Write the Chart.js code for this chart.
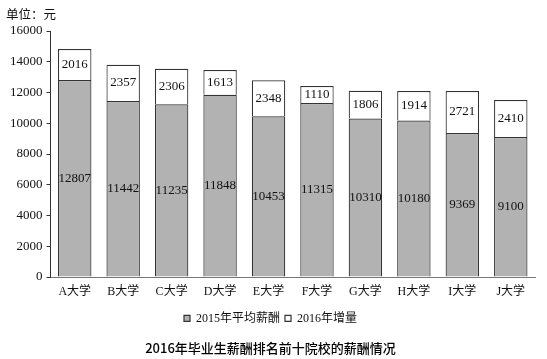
<!DOCTYPE html>
<html>
<head>
<meta charset="utf-8">
<script src="https://cdn.jsdelivr.net/npm/chart.js@4/dist/chart.umd.min.js"></script>
<style>
html,body{margin:0;padding:0;background:#fff;}
#wrap{width:547px;height:359px;}
</style>
</head>
<body>
<div id="wrap"><canvas id="c" width="547" height="359"></canvas></div>
<script>
const categories = ["A大学","B大学","C大学","D大学","E大学","F大学","G大学","H大学","I大学","J大学"];
const salary2015 = [12807,11442,11235,11848,10453,11315,10310,10180,9369,9100];
const increase2016 = [2016,2357,2306,1613,2348,1110,1806,1914,2721,2410];
const seriesNames = ["2015年平均薪酬","2016年增量"];
const yTicks = [0,2000,4000,6000,8000,10000,12000,14000,16000];
const unitLabel = "单位：元";
const chartTitle = "2016年毕业生薪酬排名前十院校的薪酬情况";

const serif = "'Liberation Serif','DejaVu Serif','Noto Sans CJK SC',serif";
const sans = "'Noto Sans CJK SC','DejaVu Sans',sans-serif";
Chart.defaults.font.family = serif;
Chart.defaults.color = '#111';

const labelPlugin = {
  id: 'segLabels',
  afterDatasetsDraw(chart) {
    const ctx = chart.ctx;
    ctx.save();
    ctx.font = "13px " + serif;
    ctx.fillStyle = "#111";
    ctx.textAlign = "center";
    ctx.textBaseline = "middle";
    chart.data.datasets.forEach((ds, di) => {
      const meta = chart.getDatasetMeta(di);
      meta.data.forEach((bar, i) => {
        const p = bar.getProps(['x','y','base'], true);
        ctx.fillText(String(ds.data[i]), p.x, (p.y + p.base) / 2);
      });
    });
    ctx.font = "12.5px " + serif;
    ctx.textAlign = "left";
    ctx.fillText(unitLabel, 6, 16);
    ctx.restore();
  }
};

new Chart(document.getElementById('c'), {
  type: 'bar',
  data: {
    labels: categories,
    datasets: [
      { label: seriesNames[0], data: salary2015, backgroundColor: '#b2b2b2', borderColor: '#333', borderWidth: 1.2, barPercentage: 0.69, categoryPercentage: 1 },
      { label: seriesNames[1], data: increase2016, backgroundColor: '#ffffff', borderColor: '#333', borderWidth: 1.2, barPercentage: 0.69, categoryPercentage: 1 }
    ]
  },
  options: {
    responsive: false,
    animation: false,
    devicePixelRatio: 1,
    layout: { padding: { top: 31, left: 6, right: 12, bottom: 1 } },
    scales: {
      x: {
        stacked: true,
        grid: { display: false, drawTicks: false },
        border: { color: '#777', width: 1 },
        ticks: { color: '#111', font: { family: serif, size: 12 }, padding: 8 }
      },
      y: {
        stacked: true,
        min: 0, max: 16000,
        afterBuildTicks(axis) { axis.ticks = yTicks.map(v => ({ value: v })); },
        grid: { drawOnChartArea: false, drawTicks: true, tickLength: 4, color: '#333' },
        border: { color: '#333', width: 1 },
        ticks: { color: '#111', font: { family: serif, size: 13 }, padding: 4, callback: v => String(v) }
      }
    },
    plugins: {
      legend: {
        position: 'bottom',
        labels: { boxWidth: 6, boxHeight: 6, color: '#111', font: { family: serif, size: 12 }, padding: 5 }
      },
      title: {
        display: true,
        position: 'bottom',
        text: chartTitle,
        color: '#000',
        font: { family: sans, size: 13, weight: '500' },
        padding: { top: 6, bottom: 2 }
      },
      tooltip: { enabled: false }
    }
  },
  plugins: [labelPlugin]
});
</script>
</body>
</html>
